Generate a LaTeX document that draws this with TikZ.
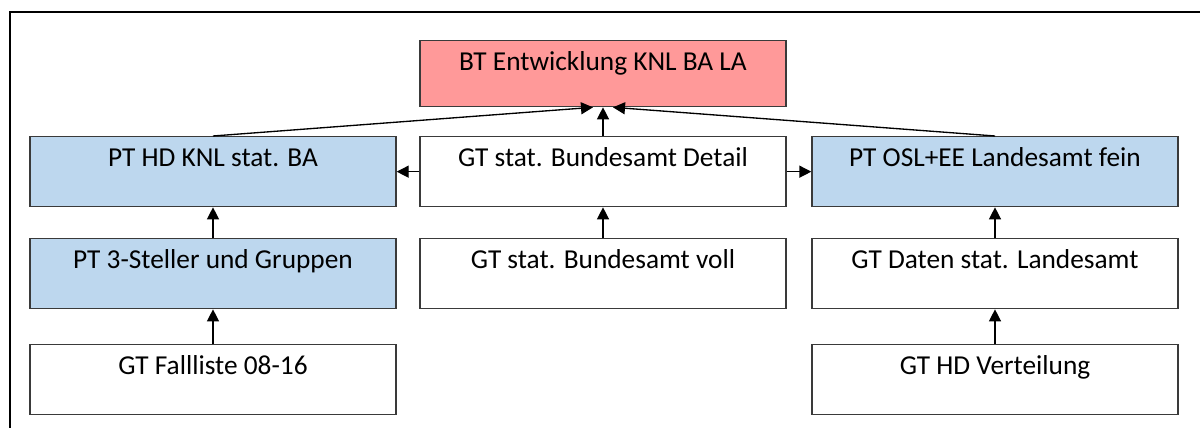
\documentclass[tikz,border=0pt]{standalone}
\usepackage{fontspec}
\setmainfont{Carlito}
\usepackage[HTML]{xcolor}
\usepackage{tikz}
\usetikzlibrary{positioning, arrows, arrows.meta}

\definecolor{btred}{HTML}{FF9999}
\definecolor{ptblue}{HTML}{BDD7EE}
\definecolor{boxline}{HTML}{3A3A3A}

\begin{document}
\begin{tikzpicture}[x=0.75pt, y=-0.75pt,
  task/.style={draw=boxline, line width=1pt, fill=white, anchor=north,
    minimum width=274.5pt, inner ysep=0pt, text height=22.5pt, text depth=30pt,
    font=\fontsize{20.5}{22}\selectfont},
  bt/.style={task, fill=btred, text depth=27pt},
  pt/.style={task, fill=ptblue},
  link/.style={-{Triangle[length=9pt, width=9pt]}, line width=1pt, black}]
\useasboundingbox (0,0) rectangle (1200,428);

% Frame
\draw[line width=1.5pt] (1200,12) -- (10,12) -- (10,428);

% Top
\node[bt] (bt) at (603,40) {BT Entwicklung KNL BA LA};

% Row 1
\node[pt]   (ptHD)     at (213,136) {PT HD KNL stat. BA};
\node[task] (gtDetail) at (603,136) {GT stat. Bundesamt Detail};
\node[pt]   (ptOSL)    at (995,136) {PT OSL+EE Landesamt fein};

% Row 2
\node[pt]   (pt3)     at (213,238) {PT 3-Steller und Gruppen};
\node[task] (gtVoll)  at (603,238) {GT stat. Bundesamt voll};
\node[task] (gtDaten) at (995,238) {GT Daten stat. Landesamt};

% Row 3
\node[task] (gtFall) at (213,344) {GT Fallliste 08-16};
\node[task] (gtHDV)  at (995,344) {GT HD Verteilung};

% Links to the top
\draw[link] (ptHD.north) -- ([xshift=-7.5pt]bt.south);
\draw[link] (gtDetail.north) -- (bt.south);
\draw[link] (ptOSL.north) -- ([xshift=7.5pt]bt.south);

% Side links
\draw[link] (gtDetail.west) -- (gtDetail.west -| ptHD.east);
\draw[link] (gtDetail.east) -- (gtDetail.east -| ptOSL.west);

% Upward links
\draw[link] (pt3.north) -- (ptHD.south);
\draw[link] (gtFall.north) -- (pt3.south);
\draw[link] (gtVoll.north) -- (gtDetail.south);
\draw[link] (gtDaten.north) -- (ptOSL.south);
\draw[link] (gtHDV.north) -- (gtDaten.south);
\end{tikzpicture}
\end{document}
